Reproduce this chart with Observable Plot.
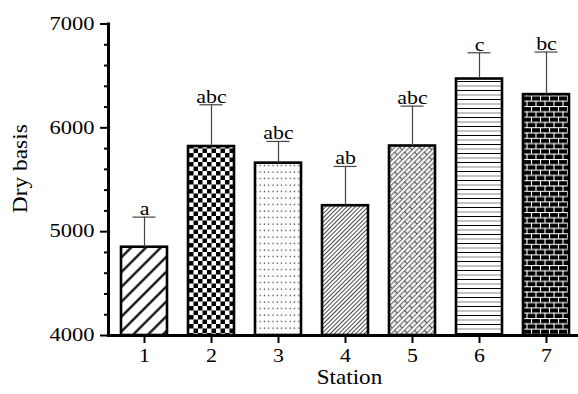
<!DOCTYPE html>
<html><head><meta charset="utf-8">
<script src="https://cdn.jsdelivr.net/npm/d3@7"></script>
<script src="https://cdn.jsdelivr.net/npm/@observablehq/plot@0.6"></script>
<style>
body{margin:0;background:#fff}
#chart svg text{font-family:"Liberation Serif","Times New Roman",serif !important;}
</style>
</head><body><div id="chart"></div>
<script>
const stations = ["1", "2", "3", "4", "5", "6", "7"];
const means = [4850, 5820, 5660, 5250, 5825, 6470, 6320];
const upper = [5140, 6222, 5869, 5628, 6209, 6723, 6730];
const letters = ["a", "abc", "abc", "ab", "abc", "c", "bc"];
const majorTicks = [4000, 5000, 6000, 7000];
const minorTicks = [4200, 4400, 4600, 4800, 5200, 5400, 5600, 5800, 6200, 6400, 6600, 6800];
const yTitle = "Dry basis";
const xTitle = "Station";

const rows = stations.map((s, i) => ({
  station: s, mean: means[i], upper: upper[i], letter: letters[i], fill: `url(#pat${i + 1})`
}));

const font = "Liberation Serif";

const chart = Plot.plot({
  width: 578, height: 394,
  marginLeft: 108, marginRight: 0, marginTop: 23.5, marginBottom: 59,
  style: {fontFamily: font, background: "#fff", color: "#000"},
  x: {domain: stations, range: [109.5, 579.5], paddingInner: 0.316, paddingOuter: 0.155, align: 0.5, label: null},
  y: {domain: [4000, 7000], label: null},
  color: {type: "identity"},
  marks: [
    Plot.barY(rows, {x: "station", y1: 4000, y2: "mean", fill: "fill", stroke: "#000", strokeWidth: 2.6}),
    Plot.ruleX(rows, {x: "station", y1: "mean", y2: "upper", stroke: "#444", strokeWidth: 1.2}),
    Plot.tickY(rows, {x: "station", y: "upper", insetLeft: 11.5, insetRight: 11.5, stroke: "#444", strokeWidth: 1.2}),
    Plot.text(rows, {x: "station", y: "upper", text: "letter", dy: -2, lineAnchor: "bottom", fontSize: 19, fontFamily: font, className: "lett"}),
    Plot.axisY({ticks: minorTicks, tickSize: 4, tickFormat: () => "", strokeWidth: 2, label: null}),
    Plot.axisY({ticks: majorTicks, tickSize: 8, tickPadding: 6, fontSize: 18, fontFamily: font, strokeWidth: 2, label: null, tickFormat: d => String(d), className: "yt"}),
    Plot.axisX({tickSize: 8, tickPadding: 4.5, fontSize: 19, fontFamily: font, strokeWidth: 2, label: null, className: "xt"}),
    Plot.frame({anchor: "left", strokeWidth: 3}),
    Plot.frame({anchor: "bottom", strokeWidth: 3}),
    Plot.text([yTitle], {frameAnchor: "left", textAnchor: "middle", dx: -88, dy: -11, rotate: -90, fontSize: 20, fontFamily: font, className: "ytitle"}),
    Plot.text([xTitle], {frameAnchor: "bottom", dx: 6, dy: 48.5, fontSize: 21, fontFamily: font, className: "xtitle"})
  ]
});

const svg = d3.select(chart);
const defs = svg.insert("defs", ":first-child");
function pat(id, w, h, transform, bg = "#fff") {
  const p = defs.append("pattern").attr("id", id).attr("patternUnits", "userSpaceOnUse")
    .attr("width", w).attr("height", h);
  if (transform) p.attr("patternTransform", transform);
  p.append("rect").attr("width", w).attr("height", h).attr("fill", bg);
  return p;
}
function line(p, x1, y1, x2, y2, stroke, sw) {
  p.append("line").attr("x1", x1).attr("y1", y1).attr("x2", x2).attr("y2", y2)
    .attr("stroke", stroke).attr("stroke-width", sw);
}
// 1: wide diagonal
let p = pat("pat1", 10.5, 10.5, "rotate(45)");
line(p, 5.25, 0, 5.25, 10.5, "#000", 2.2);
// 2: checkerboard
p = pat("pat2", 9, 9);
p.append("rect").attr("x", 0).attr("y", 0).attr("width", 4.5).attr("height", 4.5).attr("fill", "#000");
p.append("rect").attr("x", 4.5).attr("y", 4.5).attr("width", 4.5).attr("height", 4.5).attr("fill", "#000");
// 3: dots
p = pat("pat3", 4.3, 6.5);
p.append("rect").attr("x", 1.5).attr("y", 2.5).attr("width", 1.2).attr("height", 1.2).attr("fill", "#222");
// 4: fine diagonal
p = pat("pat4", 3, 3, "rotate(45)");
line(p, 1.5, 0, 1.5, 3, "#333", 0.9);
// 5: weave
p = pat("pat5", 7, 7, "rotate(45)");
line(p, 1.75, 0, 1.75, 7, "#333", 0.9);
line(p, 5.25, 0, 5.25, 7, "#333", 0.9);
line(p, 1.75, 3.5, 5.25, 3.5, "#333", 0.9);
// 6: horizontal lines
p = pat("pat6", 4, 9);
line(p, 0, 0.5, 4, 0.5, "#000", 1);
line(p, 0, 5, 4, 5, "#888", 1);
// 7: brick
p = pat("pat7", 18, 10.6, null, "#000");
line(p, 0, 0.5, 18, 0.5, "#fff", 1.1);
line(p, 0, 5.8, 18, 5.8, "#fff", 1.1);
line(p, 0.5, 0, 0.5, 5.3, "#fff", 1.1);
line(p, 9.5, 0, 9.5, 5.3, "#fff", 1.1);
line(p, 5, 5.3, 5, 10.6, "#fff", 1.1);
line(p, 14, 5.3, 14, 10.6, "#fff", 1.1);

document.getElementById("chart").appendChild(chart);

// Widen text horizontally to match the reference's stretched glyphs
const stretch = {yt: 1.25, xt: 1.15, lett: 1.15, xtitle: 1.1};
for (const [cls, f] of Object.entries(stretch)) {
  svg.selectAll(`g.${cls} text`).each(function () {
    const len = this.getComputedTextLength();
    if (len > 0) {
      this.setAttribute("textLength", (len * f).toFixed(2));
      this.setAttribute("lengthAdjust", "spacingAndGlyphs");
    }
  });
}
svg.selectAll("g.ytitle text").each(function () {
  this.setAttribute("textLength", 89);
  this.setAttribute("lengthAdjust", "spacingAndGlyphs");
});
</script>
</body></html>
